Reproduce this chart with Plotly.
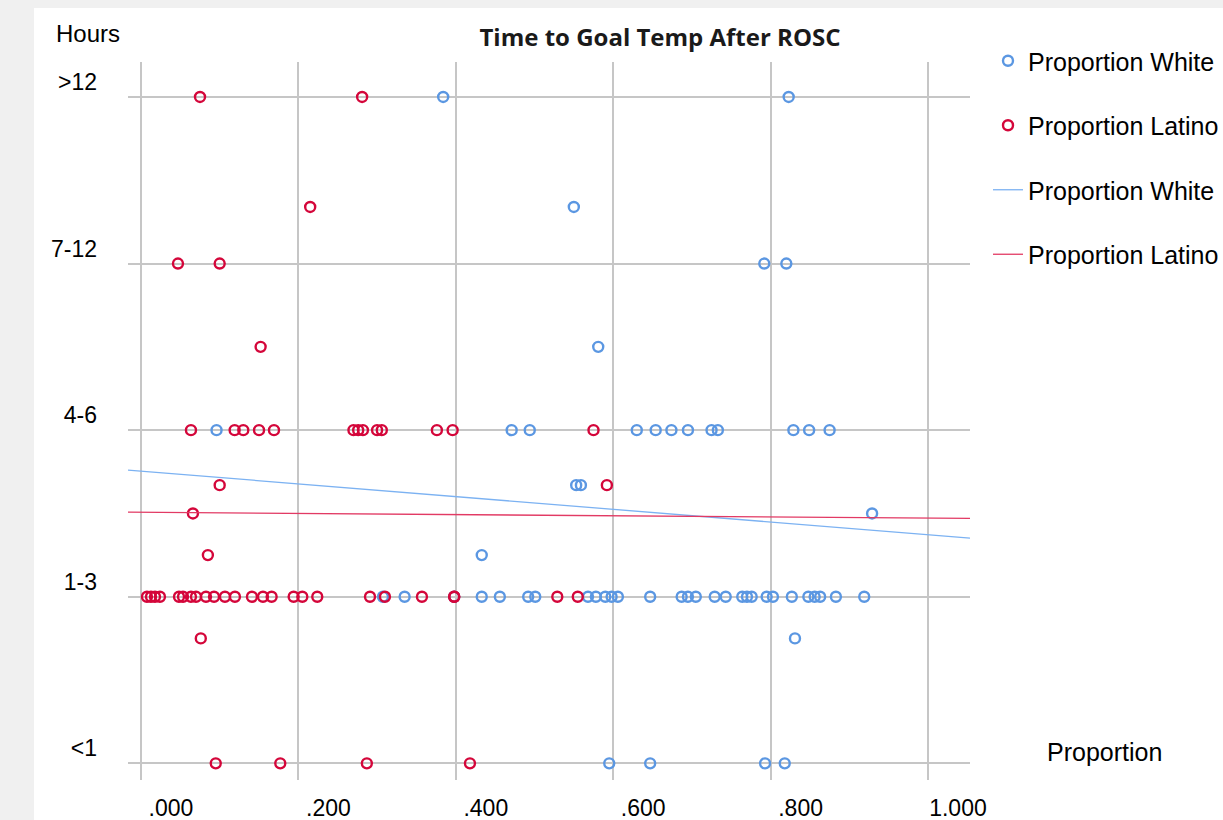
import plotly.graph_objects as go
import numpy as np

# ---- axis categories / ticks ----
hour_labels = ["<1", "1-3", "4-6", "7-12", ">12"]
hour_codes = [0, 1, 2, 3, 4]
x_tick_vals = [0.0, 0.2, 0.4, 0.6, 0.8, 1.0]
x_tick_text = [".000", ".200", ".400", ".600", ".800", "1.000"]

# ---- Proportion White (x = proportion, y = hour code) ----
white_x = [0.384, 0.823,
           0.550,
           0.792, 0.820,
           0.581,
           0.096, 0.471, 0.494, 0.630, 0.654, 0.674, 0.695, 0.725, 0.733, 0.829, 0.849, 0.875,
           0.553, 0.559,
           0.929,
           0.433,
           0.3075, 0.335, 0.398, 0.433, 0.456, 0.492, 0.501, 0.568, 0.578, 0.590, 0.598, 0.606,
           0.647, 0.687, 0.695, 0.705, 0.729, 0.743, 0.764, 0.770, 0.776, 0.795, 0.803, 0.827,
           0.848, 0.856, 0.863, 0.883, 0.919,
           0.831,
           0.595, 0.647, 0.793, 0.818]
white_y = [4, 4,
           3.34,
           3, 3,
           2.5,
           2, 2, 2, 2, 2, 2, 2, 2, 2, 2, 2, 2,
           1.67, 1.67,
           1.5,
           1.25,
           1, 1, 1, 1, 1, 1, 1, 1, 1, 1, 1, 1,
           1, 1, 1, 1, 1, 1, 1, 1, 1, 1, 1, 1,
           1, 1, 1, 1, 1,
           0.75,
           0, 0, 0, 0]

# ---- Proportion Latino ----
latino_x = [0.075, 0.281,
            0.215,
            0.047, 0.100,
            0.152,
            0.0635, 0.119, 0.130, 0.150, 0.169, 0.270, 0.276, 0.282, 0.300, 0.306, 0.376, 0.396, 0.575,
            0.100, 0.592,
            0.066,
            0.085,
            0.0076, 0.0127, 0.0178, 0.0241, 0.0483, 0.0534, 0.0635, 0.0699, 0.0826, 0.0928, 0.1067,
            0.1194, 0.141, 0.155, 0.166, 0.194, 0.205, 0.224, 0.291, 0.310, 0.357, 0.398, 0.398,
            0.529, 0.555,
            0.076,
            0.095, 0.177, 0.287, 0.418]
latino_y = [4, 4,
            3.34,
            3, 3,
            2.5,
            2, 2, 2, 2, 2, 2, 2, 2, 2, 2, 2, 2, 2,
            1.67, 1.67,
            1.5,
            1.25,
            1, 1, 1, 1, 1, 1, 1, 1, 1, 1, 1,
            1, 1, 1, 1, 1, 1, 1, 1, 1, 1, 1, 1,
            1, 1,
            0.75,
            0, 0, 0, 0]

# ---- linear fit lines ----
white_fit_intercept = 1.754
white_fit_slope = -0.382
latino_fit_intercept = 1.507
latino_fit_slope = -0.035

x_range = [-0.0165, 1.0534]
y_range = [-0.10, 4.21]

blue = "#5b97e2"
red = "#d4063a"
blue_line = "#7cb2f2"
red_line = "#e23a64"

fx = np.array(x_range)

fig = go.Figure()
fig.add_trace(go.Scatter(x=white_x, y=white_y, mode="markers", name="Proportion White",
                         legendgroup="a",
                         marker=dict(symbol="circle-open", size=10, color=blue, line=dict(width=2.4, color=blue))))
fig.add_trace(go.Scatter(x=latino_x, y=latino_y, mode="markers", name="Proportion Latino",
                         legendgroup="b",
                         marker=dict(symbol="circle-open", size=10, color=red, line=dict(width=2.4, color=red))))
fig.add_trace(go.Scatter(x=fx, y=white_fit_intercept + white_fit_slope * fx, mode="lines",
                         name="Proportion White", legendgroup="c",
                         line=dict(color=blue_line, width=1.3)))
fig.add_trace(go.Scatter(x=fx, y=latino_fit_intercept + latino_fit_slope * fx, mode="lines",
                         name="Proportion Latino", legendgroup="d",
                         line=dict(color=red_line, width=1.3)))

L, R, T, B = 128, 253, 62, 40
W, H = 1223, 820
pw = W - L - R
ph = H - T - B

def px_x(px):
    return (px - L) / pw

def px_y(py):
    return (H - B - py) / ph

font_main = "Liberation Sans, Arial, sans-serif"

fig.update_layout(
    width=W, height=H,
    margin=dict(l=L, r=R, t=T, b=B, autoexpand=False),
    paper_bgcolor="#f0f0f0",
    plot_bgcolor="white",
    font=dict(family=font_main, size=23, color="black"),
    title=dict(text="<b>Time to Goal Temp After ROSC</b>", x=px_x(660), xref="paper", xanchor="center",
               y=1 - 38 / H, yref="container", yanchor="middle",
               font=dict(family="Open Sans, sans-serif", size=24, color="#1a1a1a")),
    showlegend=True,
    legend=dict(x=px_x(988), y=px_y(38), xanchor="left", yanchor="top",
                font=dict(size=25, family=font_main), bgcolor="rgba(0,0,0,0)",
                tracegroupgap=29, traceorder="grouped", itemwidth=30),
    shapes=[dict(type="rect", xref="paper", yref="paper",
                 x0=px_x(34), x1=px_x(W + 5), y0=px_y(H + 5), y1=px_y(8),
                 fillcolor="white", line=dict(width=0), layer="below")],
    annotations=[
        dict(text="Hours", xref="paper", yref="paper", x=px_x(54), y=px_y(34),
             xanchor="left", yanchor="middle", showarrow=False, font=dict(size=24)),
        dict(text="Proportion", xref="paper", yref="paper", x=px_x(1045), y=px_y(752),
             xanchor="left", yanchor="middle", showarrow=False, font=dict(size=25)),
    ],
)

fig.update_xaxes(range=x_range, tickvals=x_tick_vals, ticktext=x_tick_text,
                 showgrid=True, gridcolor="#c6c6c6", gridwidth=1.5, zeroline=False,
                 showline=False, ticks="", ticklabelshift=30, ticklabelstandoff=12,
                 tickfont=dict(size=23))
fig.update_yaxes(range=y_range, tickvals=hour_codes, ticktext=hour_labels,
                 showgrid=True, gridcolor="#c6c6c6", gridwidth=2, zeroline=False,
                 showline=False, ticks="", ticklabelstandoff=30, ticklabelshift=-15,
                 tickfont=dict(size=23))

fig.write_html(
    "out.html",
    config={"displayModeBar": False},
    post_script="document.body.style.margin='0';document.body.style.overflow='hidden';"
                "document.body.style.background='#f0f0f0';",
)
